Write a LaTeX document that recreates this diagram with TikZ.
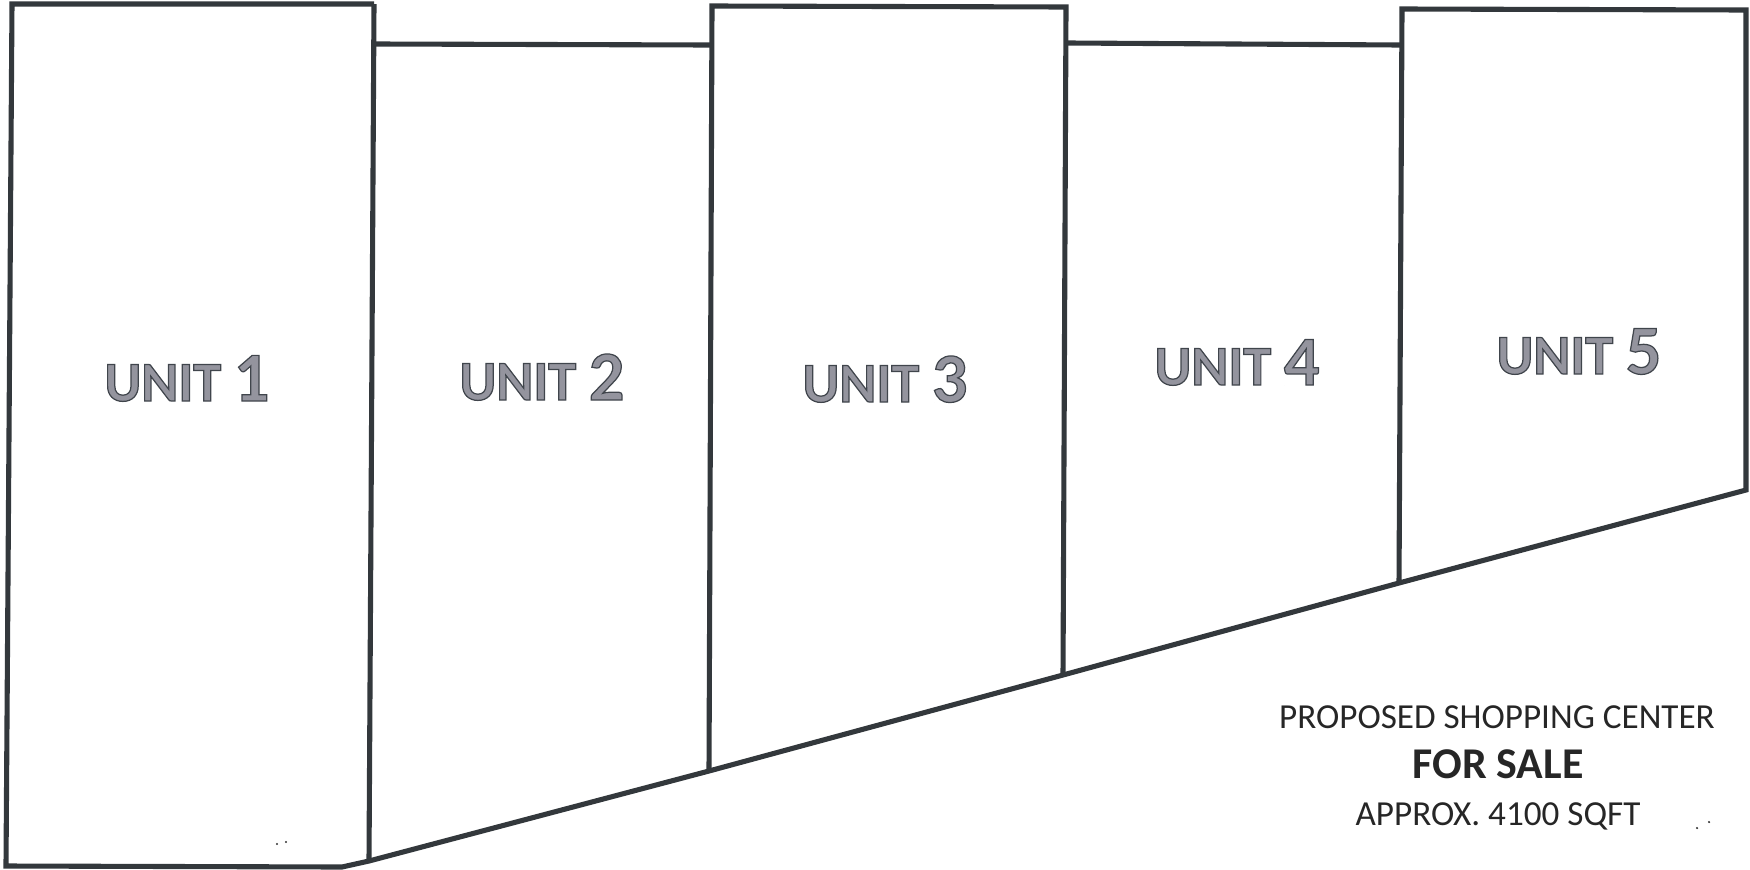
\documentclass[tikz,border=0pt]{standalone}
\usepackage{fontspec}
\setmainfont{Carlito}
\usepackage{tikz}
\definecolor{wallgray}{HTML}{33383C}
\newcommand{\outlined}[1]{\special{pdf:code 2 Tr 0.7 w 0.25 0.27 0.3 RG 0.58 0.58 0.62 rg}#1\special{pdf:code 0 Tr}}
\tikzset{
  wall/.style = {draw = wallgray, line width = 2.9pt, line join = miter},
  unitlabel/.style = {anchor = base, inner sep = 0pt, text = gray, font = \bfseries\fontsize{32}{32}\selectfont},
  saleline/.style = {anchor = base, inner sep = 0pt, text = black!85, font = \fontsize{20}{22}\selectfont},
  speck/.style = {fill = black!80, circle, inner sep = 0pt, minimum size = 1.4pt}
}
\newcommand{\unittext}[1]{\outlined{UNIT {\fontsize{40}{40}\selectfont #1}}}
\begin{document}
\begin{tikzpicture} [x = 0.02cm, y = -0.02cm]
\useasboundingbox (0,0) rectangle (1750,869);
% corners along the top
\coordinate (a1) at (12,4);
\coordinate (a2) at (374,4);
\coordinate (a3) at (712,6);
\coordinate (a4) at (1066,7);
\coordinate (a5) at (1402,9);
\coordinate (a6) at (1746,10);
% where the low roofs meet the walls
\coordinate (b2) at (375,44);
\coordinate (b3) at (710,45);
\coordinate (b4) at (1068,43);
\coordinate (b5) at (1400,45);
% along the bottom
\coordinate (c1) at (6,866);
\coordinate (c2) at (342,867);
\coordinate (d2) at (369,861);
\coordinate (d3) at (709,771);
\coordinate (d4) at (1063,675);
\coordinate (d5) at (1399,583);
\coordinate (d6) at (1746,490);
% outline
\draw [wall] (a2) -- (a1) -- (c1) -- (c2) -- (d2) -- (d3) -- (d4) -- (d5) -- (d6) -- (a6) -- (a5) -- (d5);
\draw [wall] (a2) -- (d2);
\draw [wall] (d3) -- (a3) -- (a4) -- (d4);
\draw [wall] (b2) -- (b3);
\draw [wall] (b4) -- (b5);
% labels
\node [unitlabel] (u1) at (187,401) {\unittext{1}};
\node [unitlabel] (u2) at (542,400) {\unittext{2}};
\node [unitlabel] (u3) at (885,402) {\unittext{3}};
\node [unitlabel] (u4) at (1237,385) {\unittext{4}};
\node [unitlabel] (u5) at (1579,374) {\unittext{5}};
\node [saleline] (t1) at (1497,728) {PROPOSED SHOPPING CENTER};
\node [saleline, font = \bfseries\fontsize{25}{26}\selectfont] (t2) at (1498,778) {FOR SALE};
\node [saleline] (t3) at (1498,825) {APPROX. 4100 SQFT};
\node [speck] (s1) at (277,844) {};
\node [speck] (s2) at (286,842) {};
\node [speck] (s3) at (1697,828) {};
\node [speck] (s4) at (1709,822) {};
\end{tikzpicture}
\end{document}
